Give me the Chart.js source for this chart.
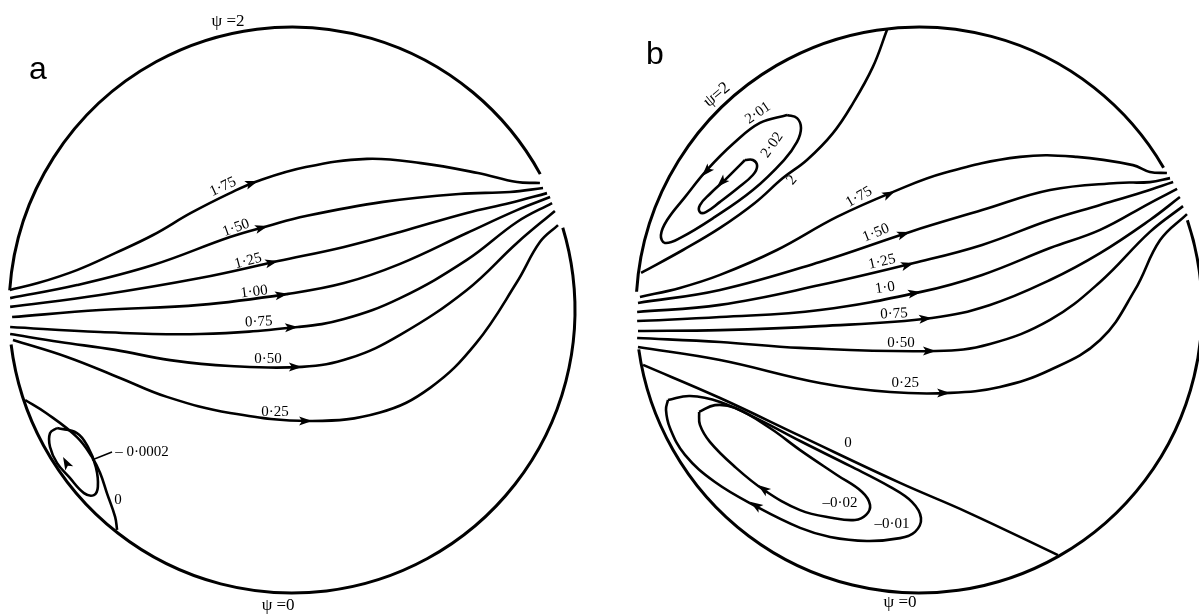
<!DOCTYPE html>
<html>
<head>
<meta charset="utf-8">
<script src="https://cdn.jsdelivr.net/npm/chart.js@4"></script>
<style>
  html, body { margin: 0; padding: 0; background: #fff; }
  #wrap { position: relative; width: 1199px; height: 615px; overflow: hidden; background: #fff; }
  canvas { position: absolute; top: 0; }
  #panel-a { left: 0; }
  #panel-b { left: 600px; }
</style>
</head>
<body>
<div id="wrap">
  <canvas id="panel-a" width="600" height="615"></canvas>
  <canvas id="panel-b" width="599" height="615"></canvas>
</div>
<script>
// Streamlines, in unit-circle coordinates (x right, y up).

// ---- panel a ----
const aPsi175 = [[-0.997,0.071],[-0.898,0.095],[-0.760,0.141],[-0.625,0.201],[-0.491,0.265],[-0.357,0.343],[-0.219,0.413],[-0.120,0.456],[0.049,0.505],[0.265,0.534],[0.456,0.519],[0.657,0.484],[0.795,0.452],[0.876,0.449]];
const aPsi150 = [[-0.996,0.042],[-0.760,0.088],[-0.491,0.159],[-0.219,0.258],[-0.085,0.297],[0.049,0.332],[0.322,0.382],[0.590,0.410],[0.770,0.417],[0.887,0.431]];
const aPsi125 = [[-0.996,0.011],[-0.678,0.053],[-0.325,0.113],[-0.049,0.173],[0.184,0.223],[0.382,0.276],[0.618,0.343],[0.770,0.378],[0.901,0.413]];
const aPsi100 = [[-0.989,-0.025],[-0.678,0.000],[-0.325,0.018],[-0.014,0.057],[0.184,0.095],[0.382,0.163],[0.618,0.272],[0.795,0.353],[0.912,0.399]];
const aPsi075 = [[-0.996,-0.060],[-0.678,-0.078],[-0.325,-0.085],[0.021,-0.060],[0.184,-0.032],[0.382,0.042],[0.618,0.177],[0.795,0.311],[0.919,0.378]];
const aPsi050 = [[-0.996,-0.085],[-0.820,-0.113],[-0.625,-0.141],[-0.431,-0.177],[-0.219,-0.198],[0.035,-0.201],[0.205,-0.170],[0.382,-0.088],[0.618,0.071],[0.795,0.237],[0.929,0.350]];
const aPsi025 = [[-0.986,-0.106],[-0.795,-0.166],[-0.608,-0.240],[-0.442,-0.307],[-0.219,-0.364],[0.071,-0.392],[0.311,-0.362],[0.488,-0.275],[0.650,-0.118],[0.795,0.099],[0.876,0.240],[0.940,0.300]];
const aPsi0 = [[-0.943,-0.318],[-0.869,-0.364],[-0.760,-0.449],[-0.707,-0.519],[-0.678,-0.576],[-0.654,-0.647],[-0.625,-0.731],[-0.618,-0.777]];
const aPsiM0002 = [[-0.830,-0.417],[-0.760,-0.435],[-0.721,-0.484],[-0.693,-0.555],[-0.686,-0.625],[-0.700,-0.654],[-0.735,-0.647],[-0.788,-0.590],[-0.830,-0.541],[-0.855,-0.484],[-0.855,-0.435],[-0.830,-0.417]];
const aLeader = [[-0.707,-0.530],[-0.636,-0.502]];
// boundary arcs (degrees, counter-clockwise from +x)
const aArcs = [[28.7, 176], [187, 376.9]];
// arrowheads: tail x, tail y, tip x, tip y
const aArrows = [[-0.159,0.442,-0.120,0.456],[-0.124,0.286,-0.085,0.297],[-0.088,0.164,-0.049,0.173],[-0.053,0.051,-0.014,0.057],[-0.018,-0.062,0.021,-0.060],[-0.004,-0.201,0.035,-0.201],[0.032,-0.392,0.071,-0.392],[-0.784,-0.565,-0.809,-0.519]];
// labels: text, x, y, slope angle, kind
const aLabels = [
  ['1·75', -0.244, 0.435, 25, 'num'], ['1·50', -0.198, 0.290, 20, 'num'], ['1·25', -0.155, 0.173, 15, 'num'],
  ['1·00', -0.134, 0.064, 7, 'num'], ['0·75', -0.117, -0.042, 3, 'num'], ['0·50', -0.085, -0.173, 0, 'num'],
  ['0·25', -0.060, -0.360, 0, 'num'], ['– 0·0002', -0.625, -0.502, 0, 'numLeft'], ['0', -0.615, -0.671, 0, 'num'],
  ['ψ =2', -0.226, 1.018, 0, 'psi'], ['ψ =0', -0.049, -1.046, 0, 'psi'], ['a', -0.898, 0.848, 0, 'letter']
];

// ---- panel b ----
const bPsi2 = [[-0.982,0.131],[-0.834,0.212],[-0.703,0.290],[-0.580,0.378],[-0.481,0.466],[-0.396,0.530],[-0.304,0.625],[-0.233,0.731],[-0.163,0.859],[-0.113,0.990]];
const bPsi175 = [[-0.986,0.046],[-0.845,0.078],[-0.703,0.124],[-0.502,0.212],[-0.290,0.329],[-0.085,0.420],[0.088,0.484],[0.357,0.541],[0.558,0.541],[0.756,0.512],[0.816,0.488],[0.876,0.484]];
const bPsi150 = [[-0.993,0.025],[-0.703,0.071],[-0.350,0.170],[-0.032,0.276],[0.223,0.353],[0.463,0.424],[0.700,0.449],[0.816,0.452],[0.887,0.466]];
const bPsi125 = [[-0.996,-0.007],[-0.703,0.018],[-0.350,0.088],[-0.018,0.166],[0.223,0.230],[0.463,0.318],[0.640,0.371],[0.792,0.417],[0.898,0.452]];
const bPsi100 = [[-0.996,-0.039],[-0.703,-0.025],[-0.350,0.000],[0.007,0.064],[0.223,0.124],[0.463,0.219],[0.640,0.283],[0.816,0.378],[0.912,0.428]];
const bPsi075 = [[-0.993,-0.074],[-0.703,-0.071],[-0.350,-0.057],[0.046,-0.028],[0.251,0.018],[0.463,0.106],[0.640,0.201],[0.816,0.318],[0.922,0.399]];
const bPsi050 = [[-0.996,-0.099],[-0.703,-0.113],[-0.420,-0.134],[0.060,-0.145],[0.251,-0.120],[0.463,-0.035],[0.640,0.099],[0.816,0.276],[0.933,0.367]];
const bPsi025 = [[-0.993,-0.131],[-0.703,-0.177],[-0.350,-0.258],[-0.102,-0.290],[0.110,-0.293],[0.286,-0.272],[0.463,-0.212],[0.640,-0.106],[0.763,0.071],[0.852,0.247],[0.947,0.339]];
const bPsi0 = [[-0.975,-0.194],[-0.703,-0.311],[-0.420,-0.445],[-0.067,-0.611],[0.170,-0.714],[0.491,-0.866]];
const bPsi201 = [[-0.466,0.689],[-0.431,0.678],[-0.417,0.643],[-0.431,0.594],[-0.477,0.530],[-0.587,0.424],[-0.721,0.329],[-0.845,0.254],[-0.898,0.237],[-0.912,0.265],[-0.890,0.318],[-0.827,0.399],[-0.749,0.495],[-0.654,0.590],[-0.562,0.661],[-0.466,0.689]];
const bPsi202 = [[-0.615,0.530],[-0.587,0.530],[-0.572,0.509],[-0.587,0.477],[-0.640,0.431],[-0.703,0.382],[-0.753,0.346],[-0.774,0.346],[-0.774,0.371],[-0.739,0.410],[-0.686,0.459],[-0.640,0.505],[-0.615,0.530]];
const bPsiM001 = [[-0.887,-0.318],[-0.809,-0.304],[-0.703,-0.325],[-0.562,-0.389],[-0.420,-0.463],[-0.244,-0.551],[-0.102,-0.625],[-0.025,-0.678],[0.007,-0.735],[-0.014,-0.784],[-0.067,-0.806],[-0.184,-0.816],[-0.314,-0.802],[-0.420,-0.770],[-0.572,-0.696],[-0.721,-0.608],[-0.827,-0.512],[-0.880,-0.417],[-0.894,-0.353],[-0.887,-0.318]];
const bPsiM002 = [[-0.777,-0.360],[-0.721,-0.336],[-0.650,-0.346],[-0.527,-0.417],[-0.420,-0.495],[-0.290,-0.583],[-0.201,-0.643],[-0.173,-0.689],[-0.187,-0.724],[-0.226,-0.742],[-0.304,-0.735],[-0.420,-0.707],[-0.548,-0.636],[-0.654,-0.551],[-0.739,-0.466],[-0.774,-0.406],[-0.777,-0.360]];
const bArcs = [[30.2, 176.3], [188, 378.5]];
const bArrows = [[-0.120,0.403,-0.085,0.420],[-0.071,0.263,-0.032,0.276],[-0.057,0.155,-0.018,0.166],[-0.032,0.057,0.007,0.064],[0.007,-0.032,0.046,-0.028],[0.021,-0.145,0.060,-0.145],[0.071,-0.293,0.110,-0.293],
  [-0.731,0.512,-0.767,0.473],[-0.678,0.470,-0.714,0.435],[-0.530,-0.647,-0.569,-0.618],[-0.558,-0.703,-0.597,-0.678]];
const bLabels = [
  ['1·75', -0.212, 0.399, 30, 'num'], ['1·50', -0.152, 0.272, 22, 'num'], ['1·25', -0.131, 0.170, 13, 'num'],
  ['1·0', -0.120, 0.078, 8, 'num'], ['0·75', -0.088, -0.014, 3, 'num'], ['0·50', -0.064, -0.117, 0, 'num'],
  ['0·25', -0.049, -0.258, 0, 'num'], ['0', -0.251, -0.470, 0, 'num'], ['–0·02', -0.279, -0.682, 0, 'num'],
  ['–0·01', -0.095, -0.756, 0, 'num'], ['2', -0.449, 0.459, 50, 'num'], ['2·01', -0.569, 0.696, 35, 'num'],
  ['2·02', -0.519, 0.583, 55, 'num'], ['ψ=2', -0.714, 0.760, 40, 'psi'], ['ψ =0', -0.067, -1.035, 0, 'psi'],
  ['b', -0.933, 0.901, 0, 'letter']
];

const INK = '#000';
const PX_PER_UNIT = 283;
const FONTS = {
  num: '15px "Liberation Serif", serif',
  numLeft: '15px "Liberation Serif", serif',
  psi: '17px "Liberation Serif", serif',
  letter: '32px "Liberation Sans", Arial, sans-serif'
};

function toXY(arr) {
  return arr.map(p => ({ x: p[0], y: p[1] }));
}

function decorPlugin(arcs, arrows, labels) {
  return {
    id: 'decor',
    beforeDatasetsDraw(chart) {
      const { ctx, scales: { x, y } } = chart;
      const cx = x.getPixelForValue(0), cy = y.getPixelForValue(0);
      const r = x.getPixelForValue(1) - cx;
      ctx.save();
      ctx.strokeStyle = INK;
      ctx.lineWidth = 3;
      arcs.forEach(([a0, a1]) => {
        ctx.beginPath();
        ctx.arc(cx, cy, r, -a0 * Math.PI / 180, -a1 * Math.PI / 180, true);
        ctx.stroke();
      });
      ctx.restore();
    },
    afterDatasetsDraw(chart) {
      const { ctx, scales: { x, y } } = chart;
      ctx.save();
      ctx.fillStyle = INK;
      arrows.forEach(([x0, y0, x1, y1]) => {
        const px = x.getPixelForValue(x1), py = y.getPixelForValue(y1);
        const ang = Math.atan2(py - y.getPixelForValue(y0), px - x.getPixelForValue(x0));
        ctx.save();
        ctx.translate(px, py);
        ctx.rotate(ang);
        ctx.beginPath();
        ctx.moveTo(0, 0);
        ctx.lineTo(-13, -4.5);
        ctx.lineTo(-10, 0);
        ctx.lineTo(-13, 4.5);
        ctx.closePath();
        ctx.fill();
        ctx.restore();
      });
      labels.forEach(([text, lx, ly, rot, kind]) => {
        ctx.save();
        ctx.translate(x.getPixelForValue(lx), y.getPixelForValue(ly));
        ctx.rotate(-rot * Math.PI / 180);
        ctx.font = FONTS[kind];
        ctx.textAlign = kind === 'numLeft' ? 'left' : 'center';
        ctx.textBaseline = 'middle';
        ctx.fillText(text, 0, 0);
        ctx.restore();
      });
      ctx.restore();
    }
  };
}

function makePanel(id, cxPx, cyPx, lines, arcs, arrows, labels) {
  const canvas = document.getElementById(id);
  const w = canvas.width, h = canvas.height;
  new Chart(canvas, {
    type: 'scatter',
    data: {
      datasets: lines.map(([name, pts, width]) => ({
        label: name,
        data: toXY(pts),
        showLine: true,
        borderColor: INK,
        borderWidth: width || 2.6,
        pointRadius: 0,
        tension: 0.4,
        fill: false
      }))
    },
    options: {
      responsive: false,
      animation: false,
      devicePixelRatio: 1,
      events: [],
      layout: { padding: 0 },
      plugins: { legend: { display: false }, tooltip: { enabled: false } },
      scales: {
        x: { type: 'linear', display: false, min: -cxPx / PX_PER_UNIT, max: (w - cxPx) / PX_PER_UNIT },
        y: { type: 'linear', display: false, min: -(h - cyPx) / PX_PER_UNIT, max: cyPx / PX_PER_UNIT }
      }
    },
    plugins: [decorPlugin(arcs, arrows, labels)]
  });
}

makePanel('panel-a', 292, 310, [
  ['1.75', aPsi175], ['1.50', aPsi150], ['1.25', aPsi125], ['1.00', aPsi100],
  ['0.75', aPsi075], ['0.50', aPsi050], ['0.25', aPsi025], ['0', aPsi0],
  ['-0.0002', aPsiM0002], ['leader', aLeader, 1.5]
], aArcs, aArrows, aLabels);

makePanel('panel-b', 319, 310, [
  ['2', bPsi2], ['1.75', bPsi175], ['1.50', bPsi150], ['1.25', bPsi125], ['1.0', bPsi100],
  ['0.75', bPsi075], ['0.50', bPsi050], ['0.25', bPsi025], ['0', bPsi0],
  ['2.01', bPsi201], ['2.02', bPsi202], ['-0.01', bPsiM001], ['-0.02', bPsiM002]
], bArcs, bArrows, bLabels);
</script>
</body>
</html>
